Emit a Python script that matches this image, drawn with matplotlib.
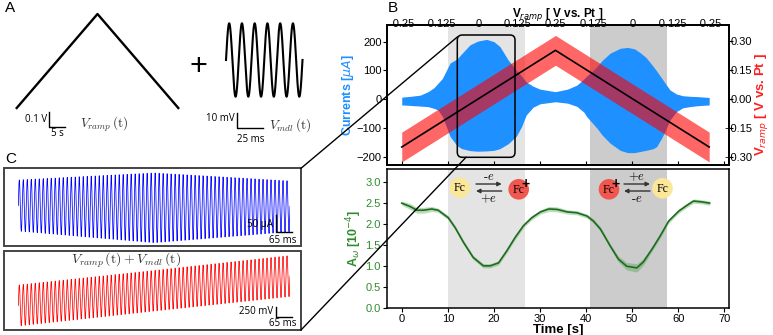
import numpy as np
import matplotlib.pyplot as plt
from matplotlib.patches import Circle, FancyBboxPatch, Rectangle

plt.rcParams['font.family'] = ['Liberation Sans', 'DejaVu Sans']
plt.rcParams['mathtext.fontset'] = 'dejavusans'

W, H = 773, 335

# ---- panel B: potential ramp (time in s, potential in V vs. Pt) ----
ramp_t = [0, 33.35, 66.7]
ramp_v = [-0.25, 0.25, -0.25]
ramp_halfwidth = 0.077
top_tick_labels = ['-0.25', '-0.125', '0', '0.125', '0.25', '0.125', '0', '-0.125', '-0.25']
top_tick_values = [-0.25, -0.125, 0, 0.125, 0.25, 0.125, 0, -0.125, -0.25]

# current envelope (uA)
cur_t = [0, 2, 4, 5.7, 7, 7.9, 8.8, 9.4, 10.5, 12, 13, 14.8, 16.5, 18.4, 20, 21.3, 23.1,
         24.9, 26, 27, 28.5, 30, 33.3, 36, 38, 39.5, 40.1, 41.2, 42.3, 43.5, 45.2, 47.4,
         49, 50.5, 51.7, 53, 54.6, 55.3, 56.4, 57.3, 58.2, 59.6, 61, 62.5, 64, 66.7]
cur_hi = [7, 10, 14, 26, 40, 56, 72, 91, 126, 140, 158, 189, 202, 208, 200, 183, 136,
          100, 80, 60, 45, 35, 26, 35, 49, 70, 80, 95, 113, 135, 160, 177,
          180, 175, 162, 145, 113, 98, 73, 52, 32, 18, 12, 10, 9, 6]
cur_lo = [-20, -22, -24, -26, -32, -38, -60, -84, -130, -162, -172, -179, -181, -180, -178, -172, -155,
          -128, -95, -55, -28, -16, -9, -14, -25, -45, -60, -80, -100, -125, -153, -178,
          -186, -186, -182, -178, -172, -165, -135, -105, -72, -43, -30, -26, -23, -20]

# A_omega (10^-4)
amp_t = [0, 1.8, 3.3, 4.7, 6.5, 7.9, 10.1, 11.6, 13.4, 15.5, 17.7, 19.2, 21, 22.8, 24.6,
         26.4, 28.2, 30.1, 31.9, 33.7, 35.9, 38, 40.2, 41.6, 43.1, 45.2, 47, 48.8, 51,
         52.4, 54.3, 56.1, 57.9, 60.1, 61.9, 63.3, 65.1, 66.8]
amp_v = [2.50, 2.42, 2.33, 2.33, 2.36, 2.33, 2.15, 1.91, 1.56, 1.20, 1.00, 1.00, 1.07, 1.36, 1.68,
         1.96, 2.15, 2.29, 2.36, 2.35, 2.29, 2.27, 2.19, 2.07, 1.88, 1.48, 1.16, 0.99, 0.95,
         1.09, 1.40, 1.72, 2.07, 2.31, 2.45, 2.55, 2.53, 2.50]
amp_err = [0.05, 0.07, 0.07, 0.07, 0.06, 0.05, 0.05, 0.05, 0.05, 0.05, 0.05, 0.05, 0.05, 0.05, 0.05,
           0.05, 0.05, 0.05, 0.06, 0.06, 0.05, 0.05, 0.05, 0.05, 0.05, 0.05, 0.07, 0.09, 0.1,
           0.08, 0.05, 0.05, 0.05, 0.05, 0.05, 0.05, 0.05, 0.05]

ox_span = (10.0, 26.7)
red_span = (40.9, 57.5)

# ---- panel A: modulation ----
mdl_cycles = 6
mdl_amp = 10  # mV

# ---- panel C: raw traces (ms) ----
trace_ms = 1104
trace_cycles = 68
cur_env_t = [0, 552, 1104]
cur_env_hi = [81, 103, 78]    # uA
cur_env_lo = [-72, -108, -74]
pot_ramp_t = [0, 1104]
pot_ramp_v = [-375, 362]      # mV
pot_amp = 512


def box(x0, y0, x1, y1):
    return [x0 / W, 1 - y1 / H, (x1 - x0) / W, (y1 - y0) / H]


fig = plt.figure(figsize=(W / 100, H / 100), dpi=100)

# ================= panel B top =================
axc = fig.add_axes(box(387, 25, 729, 165))
axc.axvspan(*ox_span, color='#e4e4e4', lw=0, zorder=0)
axc.axvspan(*red_span, color='#cccccc', lw=0, zorder=0)
axc.fill_between(cur_t, cur_lo, cur_hi, color='#1e90ff', lw=0, zorder=1)
axc.set_xlim(-3.2, 71)
axc.set_ylim(-229, 258)
axc.set_xticks(range(0, 71, 10))
axc.tick_params(axis='x', direction='in', labelbottom=False, length=3)
axc.set_yticks([-200, -100, 0, 100, 200])
axc.tick_params(axis='y', labelsize=8, length=3, pad=1)
axc.set_ylabel(r'Currents [$\mu A$]', color='#1e90ff', fontweight='bold', fontsize=9, labelpad=0)

axv = axc.twinx()
rv = np.array(ramp_v)
axv.fill_between(ramp_t, rv - ramp_halfwidth, rv + ramp_halfwidth, color='red', alpha=0.6, lw=0)
axv.plot(ramp_t, ramp_v, color='k', lw=1.2)
axv.set_ylim(-0.343, 0.381)
axv.set_yticks([-0.3, -0.15, 0, 0.15, 0.3])
axv.set_yticklabels(['\u22120.30', '\u22120.15', '0.00', '0.15', '0.30'])
axv.tick_params(axis='y', labelsize=8, length=3, pad=13.5)
for lbl in axv.get_yticklabels():
    lbl.set_horizontalalignment('right')
axv.set_ylabel(r'V$_{ramp}$ [ V vs. Pt ]', color='#ff2020', fontweight='bold', fontsize=9.5)
axv.yaxis.set_label_coords(1.071, 0.43)

axt = axc.twiny()
axt.set_xlim(axc.get_xlim())
half = len(top_tick_values) // 2
pos = list(np.interp(top_tick_values[:half + 1], ramp_v[:2], ramp_t[:2]))
pos += list(np.interp(top_tick_values[half + 1:], ramp_v[2:0:-1], ramp_t[2:0:-1]))
axt.set_xticks(pos)
axt.set_xticklabels(top_tick_labels)
axt.tick_params(axis='x', labelsize=8, length=0, pad=-3)
axt.set_xlabel(r'V$_{ramp}$ [ V vs. Pt ]', fontweight='bold', fontsize=8.5, labelpad=1.5)
for a in (axc, axv, axt):
    for s in a.spines.values():
        s.set_linewidth(1.1)

# ================= panel B bottom =================
axa = fig.add_axes(box(387, 169.3, 729, 308))
axa.axvspan(*ox_span, color='#e4e4e4', lw=0, zorder=0)
axa.axvspan(*red_span, color='#cccccc', lw=0, zorder=0)
av = np.array(amp_v)
ae = np.array(amp_err)
axa.fill_between(amp_t, av - ae, av + ae, color='#3c9a3c', alpha=0.35, lw=0, zorder=1)
axa.plot(amp_t, amp_v, color='#1d6b1d', lw=1.2, zorder=2)
axa.set_xlim(-3.2, 71)
axa.set_ylim(-0.01, 3.31)
axa.set_xticks(range(0, 71, 10))
axa.set_yticks(np.arange(0, 3.01, 0.5))
axa.tick_params(axis='both', labelsize=8, length=3, pad=1.5)
axa.tick_params(axis='y', labelcolor='#2e8b2e')
axa.set_xlabel('Time [s]', fontweight='bold', fontsize=9.5, labelpad=0)
axa.set_ylabel(r'A$_{\omega}$ [10$^{-4}$]', color='#2e8b2e', fontweight='bold', fontsize=9, labelpad=1)
for s in axa.spines.values():
    s.set_linewidth(1.1)

# ================= panel A =================
axr = fig.add_axes(box(16.7, 14, 178.3, 108))
axr.plot(ramp_t, ramp_v, color='k', lw=1.7, clip_on=False)
axr.set_xlim(ramp_t[0], ramp_t[-1])
axr.set_ylim(min(ramp_v), max(ramp_v))
axr.axis('off')

axs = fig.add_axes(box(226, 23.3, 302.5, 96.7))
ph = np.linspace(0, mdl_cycles, 800)
axs.plot(ph, mdl_amp * np.sin(2 * np.pi * ph), color='k', lw=1.5, clip_on=False)
axs.set_xlim(0, mdl_cycles)
axs.set_ylim(-mdl_amp, mdl_amp)
axs.axis('off')

# ================= panel C =================
tt = np.linspace(0, trace_ms, trace_cycles * 24)
carrier = np.sin(2 * np.pi * trace_cycles * tt / trace_ms)

axb = fig.add_axes(box(18.3, 168.3, 290, 245.7))
hi = np.interp(tt, cur_env_t, cur_env_hi)
lo = np.interp(tt, cur_env_t, cur_env_lo)
axb.plot(tt, (hi + lo) / 2 + (hi - lo) / 2 * carrier, color='#0000ff', lw=0.55)
axb.set_xlim(0, trace_ms)
axb.set_ylim(-116, 116)
axb.axis('off')

axp = fig.add_axes(box(18.3, 251, 290, 330))
base = np.interp(tt, pot_ramp_t, pot_ramp_v)
axp.plot(tt, base + pot_amp * carrier, color='#ff0000', lw=0.55)
axp.set_xlim(0, trace_ms)
axp.set_ylim(-987, 987)
axp.axis('off')

# ================= overlay (pixel coords) =================
ov = fig.add_axes([0, 0, 1, 1], zorder=10)
ov.set_xlim(0, W)
ov.set_ylim(H, 0)
ov.axis('off')
ov.patch.set_alpha(0)

for lab, x, y in [('A', 5, 8), ('B', 388, 8), ('C', 5, 159)]:
    ov.text(x, y, lab, fontsize=11, va='center', ha='left')

ov.text(198, 67, '+', fontsize=22, ha='center', va='center')

sb = dict(color='k', lw=1.0)
sbfont = dict(fontsize=7, family='Open Sans')
ov.plot([49.3, 49.3, 65], [111.7, 126.7, 126.7], **sb)
ov.text(47, 120, '0.1 V', ha='right', va='center', **sbfont)
ov.text(57, 134, '5 s', ha='center', va='center', **sbfont)
ov.text(80, 124, r'$V_{ramp}\,(\mathrm{t})$', math_fontfamily='cm', fontsize=9.5, va='center', color='#333333')

ov.plot([237.3, 237.3, 263.3], [113, 128.3, 128.3], **sb)
ov.text(235, 118.5, '10 mV', ha='right', va='center', **sbfont)
ov.text(251, 139, '25 ms', ha='center', va='center', **sbfont)
ov.text(269, 125, r'$V_{mdl}\,(\mathrm{t})$', math_fontfamily='cm', fontsize=9.5, va='center', color='#333333')

# panel C frames
for y0, y1 in [(168.3, 245.7), (251, 330)]:
    ov.add_patch(Rectangle((4, y0), 297, y1 - y0, fill=False, ec='#444444', lw=1.4))

ov.plot([275.7, 275.7, 291.7], [215, 231.7, 231.7], **sb)
ov.text(273, 225, '50 \u03bcA', ha='right', va='center', **sbfont)
ov.text(283, 240.7, '65 ms', ha='center', va='center', **sbfont)
ov.text(71, 260, r'$V_{ramp}\,(\mathrm{t}) + V_{mdl}\,(\mathrm{t})$', math_fontfamily='cm',
        fontsize=10, va='center', color='#333333')
ov.plot([276, 276, 292], [306.7, 316.7, 316.7], **sb)
ov.text(273, 311.7, '250 mV', ha='right', va='center', **sbfont)
ov.text(283, 324, '65 ms', ha='center', va='center', **sbfont)

# zoom box and connectors
ov.add_patch(FancyBboxPatch((457.3, 35), 57.7, 122.3, boxstyle='round,pad=0,rounding_size=5',
                            fill=False, ec='k', lw=1.1))
ov.plot([457.3, 301], [37, 168.3], color='k', lw=1.0)
ov.plot([466, 301], [157.3, 330], color='k', lw=1.0)

# Fc / Fc+ schematics
yellow, red = '#fbe79a', '#f2574f'
fcfont = dict(family=['Liberation Serif', 'DejaVu Serif'], fontsize=8.5, ha='center', va='center')
for cx, cy, col, plus in [(459.7, 187.7, yellow, False), (518.7, 189.3, red, True),
                          (609, 189.3, red, True), (662.5, 188.3, yellow, False)]:
    ov.add_patch(Circle((cx, cy), 10.3, fc=col, ec='none'))
    ov.text(cx, cy + 0.5, 'Fc', **fcfont)
    if plus:
        ov.text(cx + 6.5, cy - 5, '+', fontsize=10, fontweight='bold', ha='center', va='center')

arr = dict(arrowstyle='-|>', color='#333333', lw=1.0, mutation_scale=6, shrinkA=0, shrinkB=0)
for x0, x1, top_lab, bot_lab in [(476, 501.7, r'$\text{-}e$', r'$+e$'), (624, 650, r'$+e$', r'$\text{-}e$')]:
    ov.annotate('', xy=(x1, 184), xytext=(x0, 184), arrowprops=arr)
    ov.annotate('', xy=(x0, 191), xytext=(x1, 191), arrowprops=arr)
    xm = (x0 + x1) / 2
    ov.text(xm, 177, top_lab, math_fontfamily='cm', fontsize=9, ha='center', va='center')
    ov.text(xm, 199, bot_lab, math_fontfamily='cm', fontsize=9, ha='center', va='center')

fig.savefig('out.png', dpi=100)
